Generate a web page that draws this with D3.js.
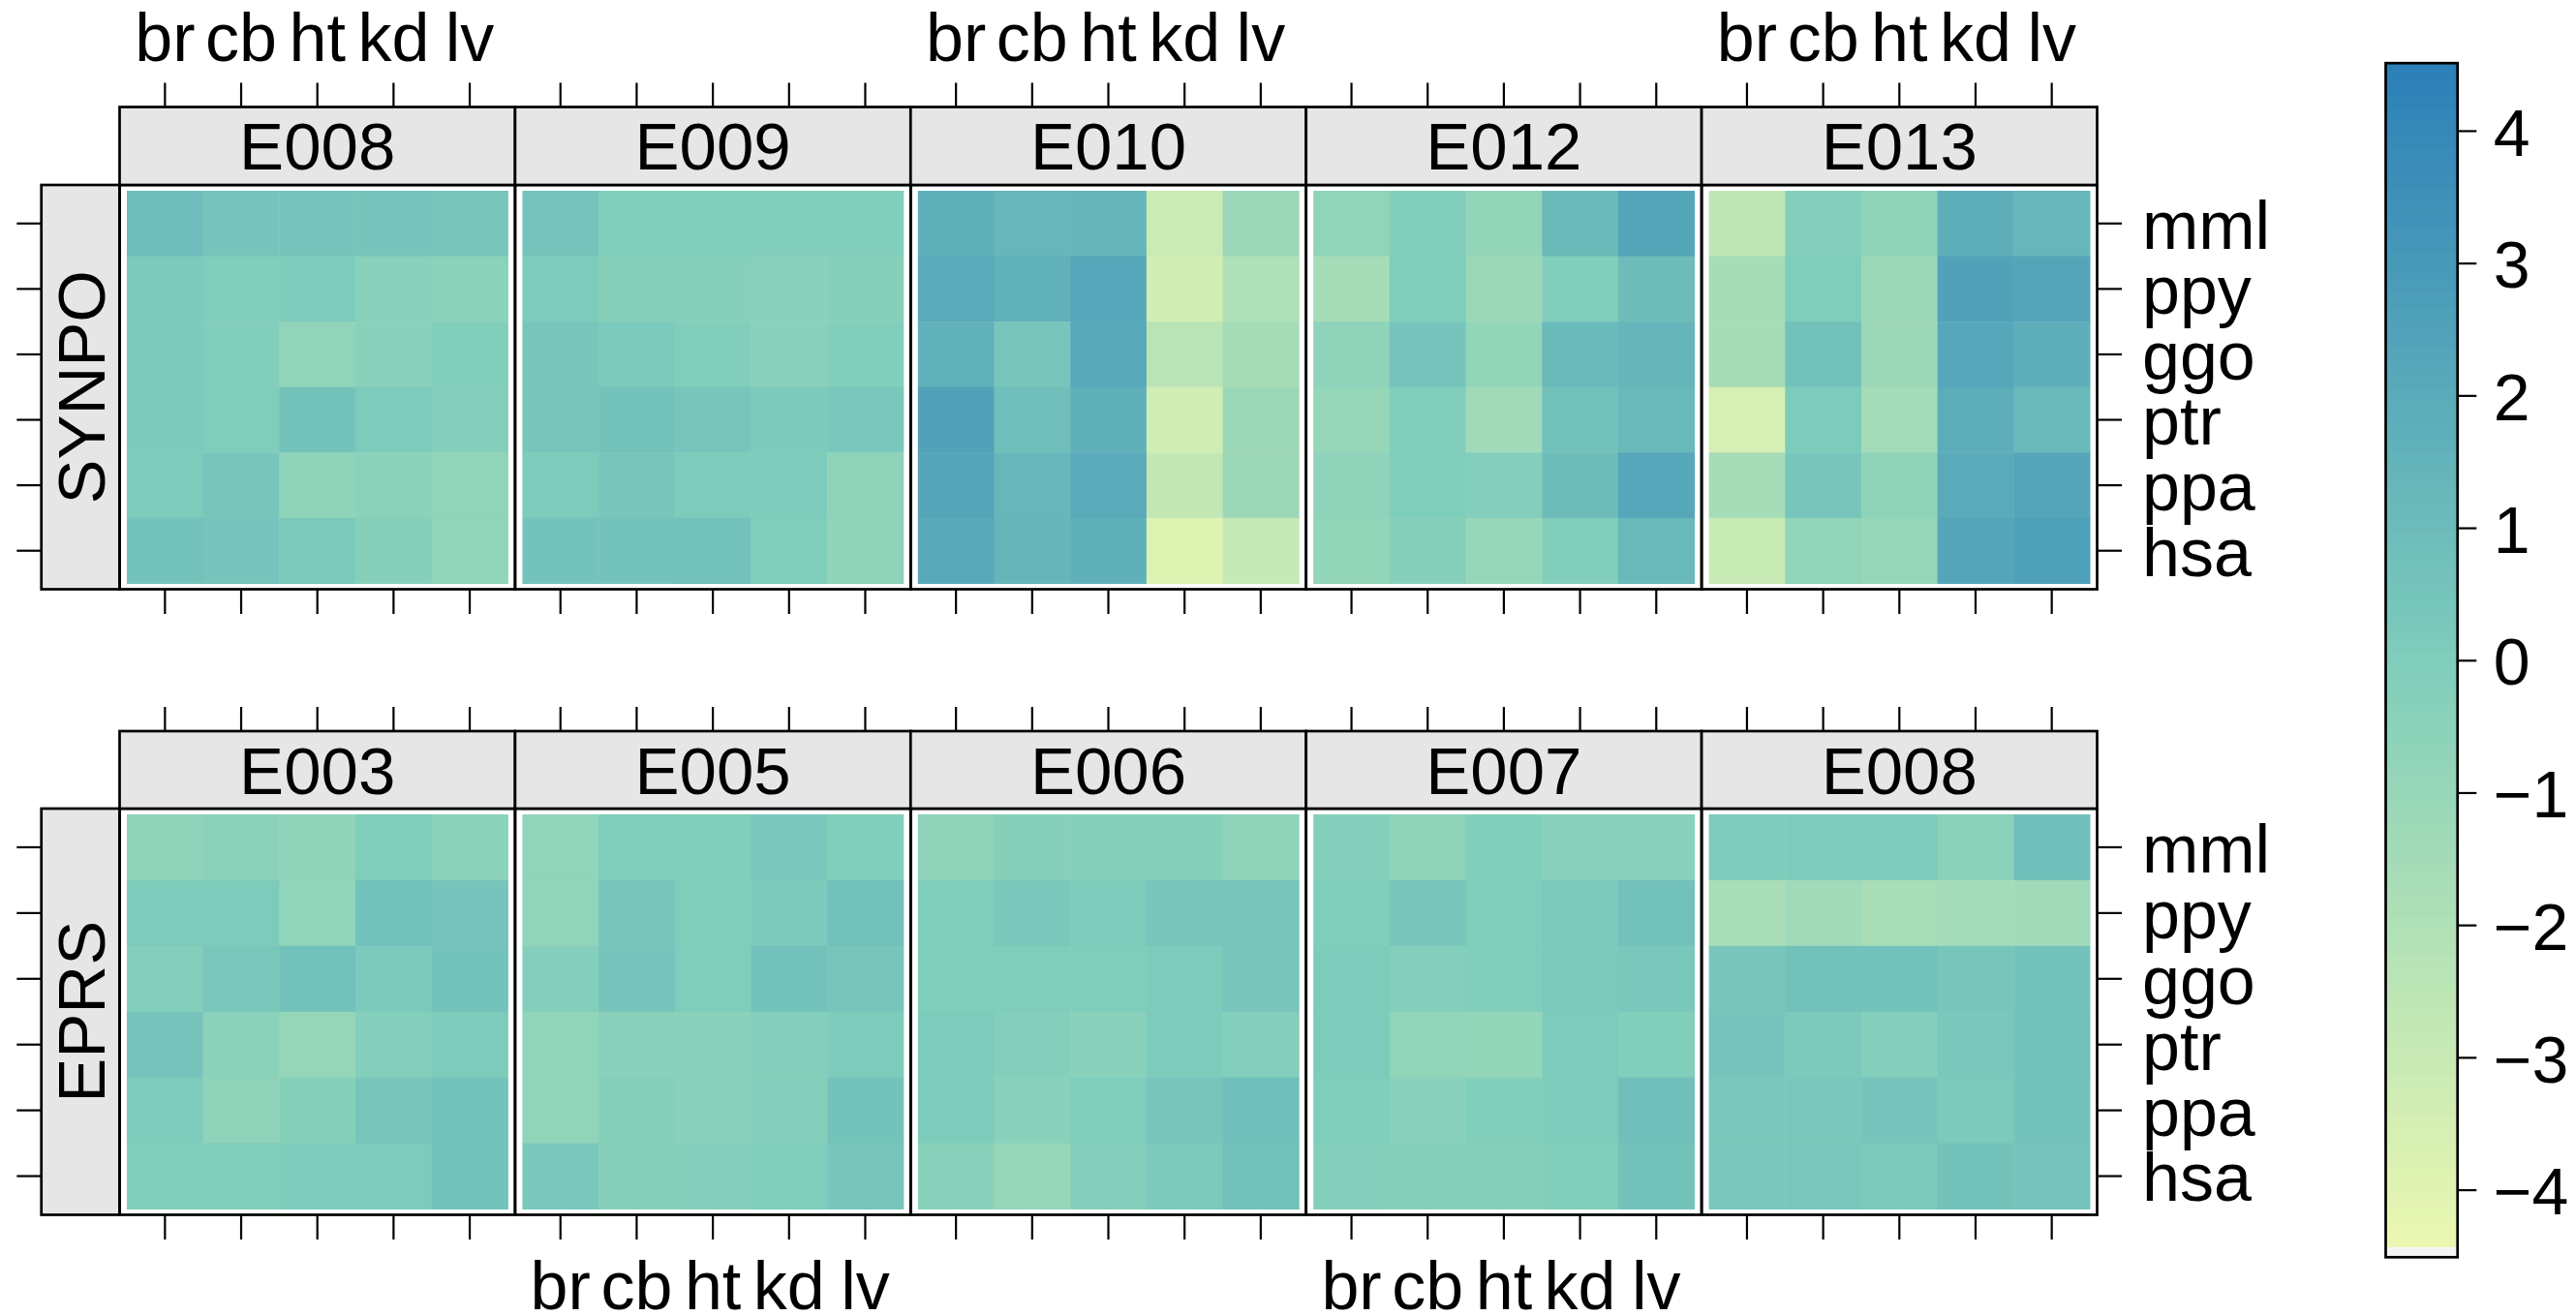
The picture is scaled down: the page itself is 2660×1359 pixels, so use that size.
<!DOCTYPE html>
<html>
<head>
<meta charset="utf-8">
<script src="https://cdn.jsdelivr.net/npm/d3@7"></script>
<style>
  body { margin: 0; background: #ffffff; }
  text { font-family: "Liberation Sans", Arial, Helvetica, sans-serif; fill: #000; }
</style>
</head>
<body>
<svg id="chart" width="2660" height="1359"></svg>
<script>
// ---- data -------------------------------------------------------------
const tissues = ["br", "cb", "ht", "kd", "lv"];
const species = ["mml", "ppy", "ggo", "ptr", "ppa", "hsa"];   // top to bottom

const synpoSamples = ["E008", "E009", "E010", "E012", "E013"];
const eprsSamples  = ["E003", "E005", "E006", "E007", "E008"];

// rows = species (mml..hsa), columns = tissues (br..lv)
const SYNPO_E008 = [
  [ 0.9,  0.5,  0.5,  0.5,  0.4],
  [ 0.2, -0.1,  0.1, -0.4, -0.5],
  [ 0.2, -0.1, -0.7, -0.4, -0.1],
  [ 0.2,  0.0,  0.6,  0.1, -0.2],
  [ 0.1,  0.4, -0.6, -0.5, -0.7],
  [ 0.6,  0.5,  0.2, -0.3, -0.7]
];
const SYNPO_E009 = [
  [ 0.5,  0.0,  0.0, -0.1, -0.1],
  [ 0.1, -0.3, -0.3, -0.4, -0.3],
  [ 0.4,  0.2, -0.1, -0.4, -0.1],
  [ 0.4,  0.6,  0.4,  0.2,  0.3],
  [ 0.1,  0.4,  0.1,  0.1, -0.6],
  [ 0.6,  0.6,  0.7,  0.0, -0.6]
];
const SYNPO_E010 = [
  [ 1.7,  1.3,  1.4, -3.1, -1.1],
  [ 2.0,  1.6,  2.2, -3.4, -2.0],
  [ 1.6,  0.4,  2.1, -2.4, -1.6],
  [ 2.5,  0.8,  1.7, -3.3, -1.2],
  [ 2.3,  1.3,  2.0, -2.8, -1.2],
  [ 2.1,  1.4,  1.7, -3.9, -2.9]
];
const SYNPO_E012 = [
  [-0.7, -0.1, -0.8,  1.1,  2.3],
  [-1.6,  0.0, -1.2, -0.1,  1.0],
  [-0.6,  0.5, -0.8,  1.1,  1.4],
  [-0.9, -0.1, -1.4,  0.7,  1.2],
  [-0.6,  0.0, -0.2,  1.0,  2.2],
  [-0.8, -0.3, -1.0, -0.1,  1.2]
];
const SYNPO_E013 = [
  [-2.6, -0.2, -0.6,  1.8,  1.3],
  [-1.6,  0.0, -1.2,  2.5,  2.3],
  [-1.6,  0.7, -1.2,  2.2,  1.8],
  [-3.6,  0.1, -1.5,  1.9,  1.2],
  [-1.6,  0.4, -0.6,  2.0,  2.3],
  [-3.0, -0.7, -0.9,  2.3,  2.6]
];

const EPRS_E003 = [
  [-0.6, -0.5, -0.6,  0.0, -0.5],
  [ 0.1,  0.1, -0.7,  0.7,  0.5],
  [-0.2,  0.3,  0.7,  0.2,  0.6],
  [ 0.5, -0.5, -0.9, -0.2,  0.1],
  [ 0.1, -0.6, -0.3,  0.4,  0.6],
  [-0.1, -0.1,  0.1,  0.1,  0.6]
];
const EPRS_E005 = [
  [-0.7,  0.0, -0.1,  0.3, -0.1],
  [-0.7,  0.4,  0.0,  0.2,  0.7],
  [-0.2,  0.5,  0.0,  0.7,  0.4],
  [-0.7, -0.4, -0.4, -0.2,  0.1],
  [-0.7, -0.3, -0.4, -0.2,  0.6],
  [ 0.3, -0.3, -0.2,  0.0,  0.4]
];
const EPRS_E006 = [
  [-0.6, -0.3, -0.3, -0.3, -0.6],
  [ 0.0,  0.3,  0.1,  0.4,  0.4],
  [ 0.0,  0.0,  0.0,  0.1,  0.4],
  [ 0.1, -0.2, -0.4,  0.1, -0.2],
  [ 0.1, -0.4,  0.0,  0.4,  0.8],
  [-0.4, -0.9, -0.2,  0.2,  0.7]
];
const EPRS_E007 = [
  [-0.2, -0.6, -0.1, -0.4, -0.4],
  [ 0.0,  0.4,  0.0,  0.2,  0.7],
  [ 0.1, -0.2,  0.0,  0.2,  0.3],
  [ 0.1, -0.7, -0.8,  0.1, -0.1],
  [ 0.0, -0.4, -0.1,  0.1,  0.8],
  [-0.2, -0.3, -0.3, -0.1,  0.6]
];
const EPRS_E008 = [
  [ 0.1,  0.1,  0.1, -0.5,  0.8],
  [-1.7, -1.4, -1.7, -1.5, -1.4],
  [ 0.4,  0.7,  0.7,  0.4,  0.6],
  [ 0.5,  0.2, -0.2,  0.3,  0.7],
  [ 0.3,  0.3,  0.5,  0.2,  0.6],
  [ 0.3,  0.3,  0.2,  0.6,  0.5]
];

const legendTicks  = [-4, -3, -2, -1, 0, 1, 2, 3, 4];
const legendDomain = [-4.51, 4.51];
const paletteStops = ["#EDF8B1", "#7FCDBB", "#2C7FB8"];

// ---- layout -----------------------------------------------------------
const svg = d3.select("#chart");
const FONT_X = 70, FONT_Y = 70, FONT_STRIP = 69, FONT_LEGEND = 68;
const BORDER = 2.7, TICK_W = 2.2;
const panelLeft = 123.5, panelW = 408.4, nPanels = 5;
const stripLeftX = 42.7;
const padX = 7.5, padY = 6;

const color = d3.scaleLinear()
  .domain([-4.5, 0, 4.5])
  .range(paletteStops)
  .interpolate(d3.interpolateRgb)
  .clamp(true);

const rows = [
  { gene: "SYNPO", samples: synpoSamples,
    data: [SYNPO_E008, SYNPO_E009, SYNPO_E010, SYNPO_E012, SYNPO_E013],
    stripTop: 110.5, top: 191, bottom: 608.5,
    topLabels: [0, 2, 4], bottomLabels: [] },
  { gene: "EPRS", samples: eprsSamples,
    data: [EPRS_E003, EPRS_E005, EPRS_E006, EPRS_E007, EPRS_E008],
    stripTop: 755, top: 835, bottom: 1254.5,
    topLabels: [], bottomLabels: [1, 3] }
];

function styleAxis(g, fontSize) {
  g.select(".domain").remove();
  g.attr("font-family", null).attr("font-size", null);
  g.selectAll(".tick line").attr("stroke", "#000").attr("stroke-width", TICK_W);
  g.selectAll(".tick text").style("font-size", fontSize + "px").attr("fill", "#000");
}

rows.forEach(row => {
  const y = d3.scaleBand().domain(species).range([row.top + padY, row.bottom - padY]);

  // left strip with the gene name
  svg.append("rect")
    .attr("x", stripLeftX).attr("y", row.top)
    .attr("width", panelLeft - stripLeftX).attr("height", row.bottom - row.top)
    .attr("fill", "#E6E6E6").attr("stroke", "#000").attr("stroke-width", BORDER);
  const cxs = (stripLeftX + panelLeft) / 2, cys = (row.top + row.bottom) / 2;
  svg.append("text")
    .attr("transform", `translate(${cxs + 0.358 * FONT_STRIP},${cys}) rotate(-90)`)
    .attr("text-anchor", "middle")
    .style("font-size", FONT_STRIP + "px")
    .text(row.gene);

  // left ticks (no labels)
  const gl = svg.append("g").attr("transform", `translate(${stripLeftX},0)`)
    .call(d3.axisLeft(y).tickSize(25.4).tickFormat(() => ""));
  styleAxis(gl, FONT_Y);

  row.samples.forEach((sample, i) => {
    const x0 = panelLeft + i * panelW, x1 = x0 + panelW;
    const x = d3.scaleBand().domain(tissues).range([x0 + padX, x1 - padX]);
    const values = row.data[i];

    // heat cells
    const cells = [];
    species.forEach((sp, r) => tissues.forEach((t, c) => cells.push({ sp, t, v: values[r][c] })));
    svg.append("g").selectAll("rect").data(cells).join("rect")
      .attr("x", d => x(d.t)).attr("y", d => y(d.sp))
      .attr("width", x.bandwidth() + 0.5).attr("height", y.bandwidth() + 0.5)
      .attr("fill", d => color(d.v));

    // panel border
    svg.append("rect")
      .attr("x", x0).attr("y", row.top).attr("width", panelW).attr("height", row.bottom - row.top)
      .attr("fill", "none").attr("stroke", "#000").attr("stroke-width", BORDER);

    // top strip with sample name
    svg.append("rect")
      .attr("x", x0).attr("y", row.stripTop).attr("width", panelW).attr("height", row.top - row.stripTop)
      .attr("fill", "#E6E6E6").attr("stroke", "#000").attr("stroke-width", BORDER);
    svg.append("text")
      .attr("x", (x0 + x1) / 2)
      .attr("y", (row.stripTop + row.top) / 2 + 0.358 * FONT_STRIP)
      .attr("text-anchor", "middle")
      .style("font-size", FONT_STRIP + "px")
      .text(sample);

    // top axis
    const showTop = row.topLabels.includes(i);
    const gt = svg.append("g").attr("transform", `translate(0,${row.stripTop})`)
      .call(d3.axisTop(x).tickSize(25).tickPadding(22.8).tickFormat(d => showTop ? d : ""));
    styleAxis(gt, FONT_X);

    // bottom axis
    const showBottom = row.bottomLabels.includes(i);
    const gb = svg.append("g").attr("transform", `translate(0,${row.bottom})`)
      .call(d3.axisBottom(x).tickSize(25.5).tickPadding(22.3).tickFormat(d => showBottom ? d : ""));
    styleAxis(gb, FONT_X);

    // right axis with species names on the last panel
    if (i === nPanels - 1) {
      const gr = svg.append("g").attr("transform", `translate(${x1},0)`)
        .call(d3.axisRight(y).tickSize(25.5).tickPadding(21));
      styleAxis(gr, FONT_Y);
      gr.selectAll(".tick text").attr("dy", "0.37em");
    }
  });
});

// ---- colour key ---------------------------------------------------------
const keyX0 = 2463.5, keyX1 = 2537.7;
const ky = d3.scaleLinear().domain(legendDomain).range([1298.3, 65.2]);

svg.append("rect")
  .attr("x", keyX0).attr("y", ky(legendDomain[1]))
  .attr("width", keyX1 - keyX0).attr("height", ky(legendDomain[0]) - ky(legendDomain[1]))
  .attr("fill", "#F5F5F5");

const keyLow = -4.43, keyStep = 0.1;
const bands = d3.range(keyLow, legendDomain[1] - 1e-9, keyStep);
svg.append("g").selectAll("rect").data(bands).join("rect")
  .attr("x", keyX0)
  .attr("y", d => ky(Math.min(d + keyStep, legendDomain[1])))
  .attr("width", keyX1 - keyX0)
  .attr("height", d => ky(d) - ky(Math.min(d + keyStep, legendDomain[1])) + 0.6)
  .attr("fill", d => color(d + keyStep / 2));

svg.append("rect")
  .attr("x", keyX0).attr("y", ky(legendDomain[1]))
  .attr("width", keyX1 - keyX0).attr("height", ky(legendDomain[0]) - ky(legendDomain[1]))
  .attr("fill", "none").attr("stroke", "#000").attr("stroke-width", BORDER);

const gk = svg.append("g").attr("transform", `translate(${keyX1},0)`)
  .call(d3.axisRight(ky).tickValues(legendTicks).tickSize(19.6).tickPadding(17.5).tickFormat(d3.format("d")));
styleAxis(gk, FONT_LEGEND);
gk.selectAll(".tick text").attr("dy", "0.37em");
</script>
</body>
</html>
